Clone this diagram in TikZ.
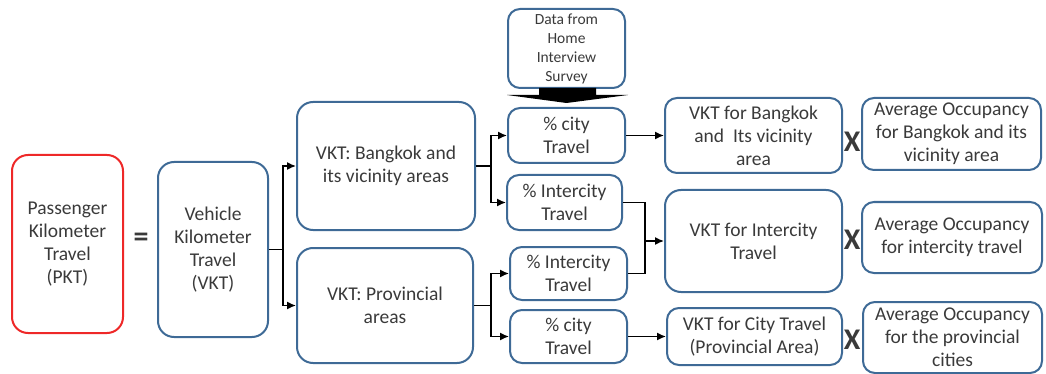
\documentclass[tikz,border=0pt]{standalone}
\usepackage{fontspec}
\setmainfont{Carlito}
\usetikzlibrary{arrows.meta}
\definecolor{boxblue}{RGB}{62,106,150}
\definecolor{boxred}{RGB}{238,40,40}
\definecolor{txtgray}{RGB}{58,58,58}
\tikzset{
  box/.style={draw=boxblue, line width=2pt, rounded corners=12pt, align=center, text=txtgray,
    inner sep=0pt, font=\fontsize{19.5}{23}\selectfont},
  smallbox/.style={box, font=\fontsize{15.5}{19}\selectfont},
  link/.style={line width=1.5pt, -{Latex[length=9pt,width=8pt]}},
  wire/.style={line width=1.5pt},
  sign/.style={text=txtgray, font=\fontsize{30}{30}\selectfont\bfseries},
}
\begin{document}
\begin{tikzpicture}[x=1pt,y=-1pt]
\useasboundingbox (0,0) rectangle (1046,374);
% left side
\node[box, draw=boxred, minimum width=111, minimum height=178, rounded corners=16pt] (pkt) at (67.5,244) {Passenger\\Kilometer\\Travel\\(PKT)};
\node[sign] (eq) at (141,240) {=};
\node[box, minimum width=110, minimum height=175, rounded corners=16pt] (vkt) at (213,249.5) {Vehicle\\Kilometer\\Travel\\(VKT)};
% areas
\node[box, minimum width=178, minimum height=128, rounded corners=16pt] (bkk) at (386,166) {VKT: Bangkok and\\its vicinity areas};
\node[box, minimum width=176, minimum height=115, rounded corners=16pt] (prov) at (385,305.5) {VKT: Provincial\\areas};
% shares
\node[smallbox, minimum width=117, minimum height=79] (survey) at (566.5,48.5) {Data from\\Home\\Interview\\Survey};
\node[box, minimum width=117, minimum height=55] (city1) at (566.5,135.5) {\% city\\Travel};
\node[box, minimum width=115, minimum height=55] (inter1) at (564.5,202.5) {\% Intercity\\Travel};
\node[box, minimum width=117, minimum height=53] (inter2) at (568.5,273.5) {\% Intercity\\Travel};
\node[box, minimum width=117, minimum height=53] (city2) at (568.5,336.5) {\% city\\Travel};
% VKT results
\node[box, minimum width=177, minimum height=75] (vktbkk) at (753.5,135.5) {VKT for Bangkok\\and~~Its vicinity\\area};
\node[box, minimum width=177, minimum height=102, rounded corners=16pt] (vktinter) at (753.5,241) {VKT for Intercity\\Travel};
\node[box, minimum width=175, minimum height=57] (vktcity) at (754.5,336.5) {VKT for City Travel\\(Provincial Area)};
% occupancy
\node[sign] (x1) at (852,142) {X};
\node[sign] (x2) at (852,240) {X};
\node[sign] (x3) at (852,340) {X};
\node[box, minimum width=179, minimum height=72] (occbkk) at (951.5,134) {Average Occupancy\\for Bangkok and its\\vicinity area};
\node[box, minimum width=180, minimum height=71] (occinter) at (952,237.5) {Average Occupancy\\for intercity travel};
\node[box, minimum width=179, minimum height=71] (occcity) at (952.5,337.5) {Average Occupancy\\for the provincial\\cities};
% connectors
\draw[link] (vkt.east) -- ++(14,0) |- (bkk.west);
\draw[link] (vkt.east) -- ++(14,0) |- (prov.west);
\draw[link] (bkk.east) -- ++(15,0) |- (city1.west);
\draw[link] (bkk.east) -- ++(15,0) |- (inter1.west);
\draw[link] (prov.east) -- ++(17,0) |- (inter2.west);
\draw[link] (prov.east) -- ++(17,0) |- (city2.west);
\coordinate (merge) at (645,241);
\draw[wire] (inter1.east) -| (merge);
\draw[wire] (inter2.east) -| (merge);
\draw[link] (merge) -- (vktinter.west);
\draw[link] (city1.east) -- (vktbkk.west);
\draw[link] (city2.east) -- (vktcity.west);
% survey arrow
\fill[black] (539,88) -- (596,88) -- (596,95) -- (628,95) -- (566.5,103) -- (507,95) -- (539,95) -- cycle;
\end{tikzpicture}
\end{document}
